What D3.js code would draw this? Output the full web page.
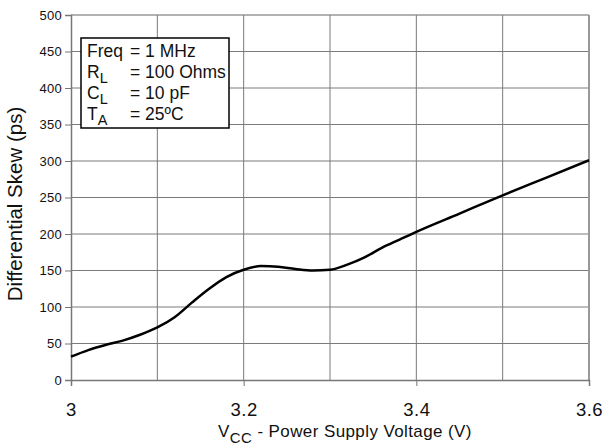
<!DOCTYPE html>
<html>
<head>
<meta charset="utf-8">
<script src="https://cdn.jsdelivr.net/npm/d3@7"></script>
<style>
  body { margin: 0; background: #fff; }
  text { font-family: "Liberation Sans", Arial, sans-serif; fill: #111; }
</style>
</head>
<body>
<div class="chart"></div>
<script>
// Data
var voltage = [3.00, 3.02, 3.04, 3.06, 3.08, 3.10, 3.12, 3.14, 3.16, 3.18, 3.20, 3.22, 3.24, 3.26, 3.28, 3.30, 3.32, 3.34, 3.36, 3.38, 3.40, 3.45, 3.50, 3.55, 3.60];
var skew = [32, 41, 48, 54, 62, 72, 86, 106, 125, 141, 151, 156, 155, 152, 150, 151, 158, 168, 181, 192, 203, 228, 253, 277, 301];
var xTicks = [3.0, 3.2, 3.4, 3.6];
var xGrid = [3.1, 3.2, 3.3, 3.4, 3.5, 3.6];
var yTicks = [0, 50, 100, 150, 200, 250, 300, 350, 400, 450, 500];
var legendLines = [
  { main: "Freq", sub: "", val: "= 1 MHz" },
  { main: "R", sub: "L", val: "= 100 Ohms" },
  { main: "C", sub: "L", val: "= 10 pF" },
  { main: "T", sub: "A", val: "= 25ºC" }
];

// Set up chart
var svgWidth = 614;
var svgHeight = 448;
var margin = { top: 15, right: 25, bottom: 68, left: 71 };
var width = svgWidth - margin.left - margin.right;
var height = svgHeight - margin.top - margin.bottom;

var svg = d3.select(".chart")
  .append("svg")
  .attr("width", svgWidth)
  .attr("height", svgHeight);

var chartGroup = svg.append("g")
  .attr("transform", `translate(${margin.left}, ${margin.top})`);

var x = d3.scaleLinear().domain([3.0, 3.6]).range([0, width]);
var y = d3.scaleLinear().domain([0, 500]).range([height, 0]);

// Grid lines
chartGroup.selectAll(".hgrid")
  .data(yTicks.slice(1))
  .enter()
  .append("line")
  .attr("x1", 0)
  .attr("x2", width)
  .attr("y1", d => y(d))
  .attr("y2", d => y(d))
  .attr("stroke", d => d === 500 ? "#999" : "#7a7a7a")
  .attr("stroke-width", d => d === 500 ? 1.5 : 1);

chartGroup.selectAll(".vgrid")
  .data(xGrid)
  .enter()
  .append("line")
  .attr("x1", d => x(d))
  .attr("x2", d => x(d))
  .attr("y1", 0)
  .attr("y2", height)
  .attr("stroke", d => d === 3.6 ? "#999" : "#7a7a7a")
  .attr("stroke-width", d => d === 3.6 ? 2 : 1);

// Y axis
var yAxis = chartGroup.append("g")
  .call(d3.axisLeft(y).tickValues(yTicks).tickSize(6).tickPadding(3));
yAxis.select(".domain").attr("stroke", "#777").attr("stroke-width", 1.5);
yAxis.selectAll(".tick line").attr("stroke", "#777");
yAxis.selectAll("text")
  .attr("font-size", 13)
  .attr("letter-spacing", 0.3)
  .attr("font-family", "Liberation Sans, Arial, sans-serif")
  .attr("fill", "#111");

// X axis
var xAxis = chartGroup.append("g")
  .attr("transform", `translate(0, ${height})`)
  .call(d3.axisBottom(x).tickValues(xTicks).tickSize(6)
    .tickFormat(d => d === 3 ? "3" : d3.format(".1f")(d)));
xAxis.select(".domain").attr("stroke", "#777").attr("stroke-width", 1.5);
xAxis.selectAll(".tick line").attr("stroke", "#777");
xAxis.selectAll("text")
  .attr("y", 36)
  .attr("dy", 0)
  .attr("font-size", 18.5)
  .attr("letter-spacing", 0.5)
  .attr("font-family", "Liberation Sans, Arial, sans-serif")
  .attr("fill", "#111");

// Curve
var line = d3.line()
  .x((d, i) => x(voltage[i]))
  .y(d => y(d))
  .curve(d3.curveMonotoneX);

chartGroup.append("path")
  .datum(skew)
  .attr("d", line)
  .attr("fill", "none")
  .attr("stroke", "#000")
  .attr("stroke-width", 2.5);

// Legend box
var legend = svg.append("g").attr("transform", "translate(81, 38)");
legend.append("rect")
  .attr("width", 148)
  .attr("height", 90)
  .attr("fill", "#fff")
  .attr("stroke", "#000")
  .attr("stroke-width", 1.5);

legendLines.forEach((d, i) => {
  var t = legend.append("text")
    .attr("x", 6)
    .attr("y", 18.7 + i * 21.1)
    .attr("font-size", 17.5);
  t.append("tspan").text(d.main);
  if (d.sub) {
    t.append("tspan").attr("dy", 5).attr("font-size", 14.5).text(d.sub);
  }
  legend.append("text")
    .attr("x", 49)
    .attr("y", 18.7 + i * 21.1)
    .attr("font-size", 17.5)
    .text(d.val);
});

// Axis titles
svg.append("text")
  .attr("transform", "rotate(-90)")
  .attr("x", -204)
  .attr("y", 22)
  .attr("text-anchor", "middle")
  .attr("font-size", 20.5)
  .text("Differential Skew (ps)");

var xTitle = svg.append("text")
  .attr("x", 345)
  .attr("y", 437)
  .attr("text-anchor", "middle")
  .attr("letter-spacing", 0.4)
  .attr("font-size", 17);
xTitle.append("tspan").text("V");
xTitle.append("tspan").attr("dy", 6).attr("font-size", 15).text("CC");
xTitle.append("tspan").attr("dy", -6).text(" - Power Supply Voltage (V)");
</script>
</body>
</html>
